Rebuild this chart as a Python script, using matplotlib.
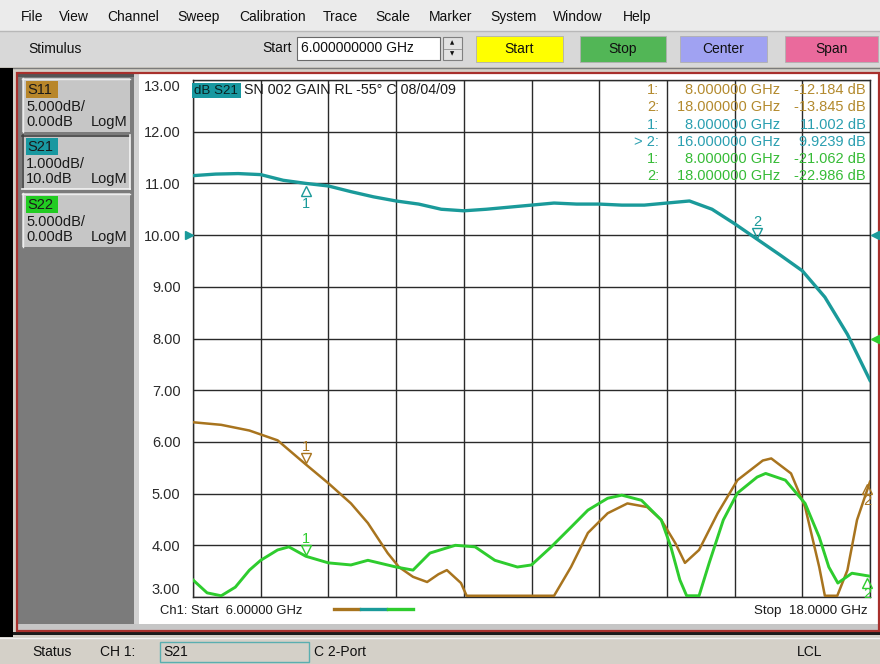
import matplotlib
matplotlib.use('Agg')
import matplotlib.pyplot as plt
from matplotlib.patches import Rectangle
from matplotlib.lines import Line2D
from matplotlib.transforms import offset_copy
import numpy as np

plt.rcParams['font.family'] = ['Liberation Sans', 'DejaVu Sans']

# ---------------- data ----------------
s21_f = [6.0, 6.4, 6.8, 7.2, 7.6, 8.0, 8.4, 8.8, 9.2, 9.6, 10.0, 10.4, 10.8, 11.2, 11.6,
         12.0, 12.4, 12.8, 13.2, 13.6, 14.0, 14.4, 14.8, 15.2, 15.6, 16.0, 16.4, 16.8,
         17.2, 17.6, 18.0]
s21_db = [11.15, 11.18, 11.19, 11.17, 11.06, 11.00, 10.95, 10.84, 10.74, 10.66, 10.60,
          10.50, 10.47, 10.50, 10.54, 10.58, 10.62, 10.60, 10.60, 10.58, 10.58, 10.62,
          10.66, 10.50, 10.22, 9.92, 9.62, 9.31, 8.80, 8.08, 7.19]

s11_f = [6.0, 6.5, 7.0, 7.5, 8.0, 8.4, 8.8, 9.1, 9.45, 9.65, 9.9, 10.15, 10.35, 10.5,
         10.75, 10.85, 11.5, 12.3, 12.4, 12.7, 13.0, 13.35, 13.7, 14.05, 14.3, 14.55,
         14.72, 14.97, 15.3, 15.65, 16.1, 16.25, 16.6, 16.85, 17.1, 17.2, 17.42, 17.6,
         17.77, 18.0]
s11_db = [-8.1, -8.35, -8.9, -9.85, -12.18, -14.0, -15.95, -17.85, -20.75, -22.1, -23.05,
          -23.55, -22.8, -22.4, -23.65, -27.0, -30.0, -27.0, -25.2, -22.1, -18.8, -16.9,
          -15.95, -16.3, -17.55, -19.8, -21.7, -20.45, -16.9, -13.7, -11.8, -11.6, -13.05,
          -16.3, -22.1, -28.0, -28.0, -22.4, -17.55, -13.85]

s22_f = [6.0, 6.25, 6.5, 6.75, 7.0, 7.2, 7.5, 7.7, 8.0, 8.4, 8.8, 9.1, 9.6, 9.9, 10.2,
         10.65, 11.0, 11.35, 11.75, 12.0, 12.35, 12.7, 13.0, 13.35, 13.6, 13.95, 14.3,
         14.47, 14.63, 14.75, 14.97, 15.15, 15.4, 15.65, 16.0, 16.15, 16.5, 16.85, 17.1,
         17.27, 17.43, 17.68, 18.0]
s22_db = [-23.35, -24.6, -25.5, -24.05, -22.4, -21.45, -20.45, -20.15, -21.06, -21.7,
          -21.9, -21.45, -22.1, -22.4, -20.75, -20.0, -20.15, -21.45, -22.1, -21.9, -20.15,
          -18.25, -16.6, -15.45, -15.15, -15.65, -17.55, -20.15, -23.35, -27.0, -27.0,
          -21.7, -17.55, -14.95, -13.4, -13.05, -13.7, -15.95, -19.2, -22.1, -23.65,
          -22.7, -22.99]

s11_mk_f = [8.0, 18.0]
s11_mk_v = [-12.184, -13.845]
s21_mk_f = [8.0, 16.0]
s21_mk_v = [11.002, 9.9239]
s22_mk_f = [8.0, 18.0]
s22_mk_v = [-21.062, -22.986]

f_start, f_stop = 6.0, 18.0
s21_scale, s21_ref = 1.0, 10.0
s11_scale, s11_ref = 5.0, 0.0

menu_items = ["File", "View", "Channel", "Sweep", "Calibration", "Trace", "Scale",
              "Marker", "System", "Window", "Help"]
menu_x = [21, 59, 107, 177, 239, 323, 375, 429, 490, 553, 623]

C11 = '#a8741e'
C21 = '#1a9a9a'
C22 = '#2ecc2e'
T11 = '#b38a2e'
T21 = '#2a9fb0'
T22 = '#36bb36'

W, H = 880, 664
fig = plt.figure(figsize=(8.8, 6.64), dpi=100)
fig.patch.set_facecolor('#d4d0c8')


def R(x0, y0, x1, y1, fc, ec='none', lw=0.0, z=-5):
    fig.add_artist(Rectangle((x0 / W, 1 - y1 / H), (x1 - x0) / W, (y1 - y0) / H,
                             transform=fig.transFigure, facecolor=fc, edgecolor=ec,
                             linewidth=lw, zorder=z))


def T(x, y, s, **kw):
    kw.setdefault('va', 'center')
    kw.setdefault('fontsize', 10)
    kw.setdefault('color', '#101010')
    return fig.text(x / W, 1 - y / H, s, **kw)


def L(x0, y0, x1, y1, color, lw=1.0, z=-4):
    fig.add_artist(Line2D([x0 / W, x1 / W], [1 - y0 / H, 1 - y1 / H],
                          transform=fig.transFigure, color=color, linewidth=lw, zorder=z))


# ---------------- window chrome ----------------
R(0, 0, 880, 31, '#ebebeb')
L(0, 31, 880, 31, '#b8b8b8')
for name, x in zip(menu_items, menu_x):
    T(x, 17, name, fontsize=10)

R(0, 32, 880, 67, '#d8d8d8')
T(28, 49, "Stimulus", fontsize=10)
T(292, 48, "Start", fontsize=10, ha='right')
R(297, 37, 440, 60, 'white', ec='#6a6a6a', lw=0.8, z=-3)
T(301, 48, "6.000000000 GHz", fontsize=10)
R(443, 37, 462, 60, '#e2e2e2', ec='#808080', lw=0.8, z=-3)
L(444, 48.5, 461, 48.5, '#909090', 0.6, z=-2)
T(452.5, 43, "▲", fontsize=4, ha='center', family='DejaVu Sans')
T(452.5, 54, "▼", fontsize=4, ha='center', family='DejaVu Sans')
buttons = [("Start", 476, 563, '#ffff00'), ("Stop", 580, 666, '#52b656'),
           ("Center", 680, 767, '#a0a2f2'), ("Span", 785, 878, '#ea6a9c')]
for name, x0, x1, col in buttons:
    R(x0, 36, x1, 62, col, ec='#b0b0b0', lw=0.6, z=-3)
    T((x0 + x1) / 2, 49, name, fontsize=10, ha='center')

L(0, 67.5, 880, 67.5, '#7a7a7a', 1.0)
R(0, 68, 880, 637, '#d4d0c8')
R(0, 68, 13, 637, '#000000', z=-4)

# red framed channel window
R(18, 74, 134, 624, '#7b7b7b', z=-4)
R(18, 74, 134, 77, '#555555', z=-3)
R(134, 74, 139, 624, '#d2d2d2', z=-4)
R(139, 74, 879, 624, 'white', z=-4)
R(18, 624, 879, 630, '#c6c6c6', z=-4)
R(17, 72.5, 879, 631, 'none', ec='#a8302c', lw=1.6, z=-2)
R(13, 632, 880, 635, '#1a1a1a', z=-3)

# trace info boxes
boxes = [("S11", "5.000dB/", "0.00dB", 78, '#b8862a', False),
         ("S21", "1.000dB/", "10.0dB", 135, '#1898a0', True),
         ("S22", "5.000dB/", "0.00dB", 193, '#22cc22', False)]
for name, l1, l2, y0, col, sel in boxes:
    R(22, y0, 130, y0 + 54, '#c6c6c6', z=-3)
    if sel:
        L(22, y0 + 0.5, 130, y0 + 0.5, '#404040', 1.2, z=-2)
        L(22.5, y0, 22.5, y0 + 54, '#404040', 1.2, z=-2)
        L(22, y0 + 53.5, 130, y0 + 53.5, '#f4f4f4', 1.2, z=-2)
        L(129.5, y0, 129.5, y0 + 54, '#f4f4f4', 1.2, z=-2)
    else:
        L(22, y0 + 0.5, 130, y0 + 0.5, '#ececec', 1.0, z=-2)
        L(22.5, y0, 22.5, y0 + 54, '#ececec', 1.0, z=-2)
    R(26, y0 + 3, 58, y0 + 20, col, z=-2)
    T(27, y0 + 12, name, fontsize=10.5, color='#1a1a1a')
    T(26, y0 + 29, l1, fontsize=10.5, color='#1a1a1a')
    T(26, y0 + 44, l2, fontsize=10.5, color='#1a1a1a')
    T(127, y0 + 44, "LogM", fontsize=10.5, color='#1a1a1a', ha='right')

# status bar
R(0, 637, 880, 664, '#d4d0c8', z=-3)
L(0, 637.5, 880, 637.5, '#f2f2f2', 1.0, z=-2)
T(32, 652, "Status", fontsize=10)
T(100, 652, "CH 1:", fontsize=10)
R(160, 642, 309, 662, '#d4d0c8', ec='#5aaeb0', lw=1.0, z=-2)
T(163, 652, "S21", fontsize=10)
T(314, 652, "C 2-Port", fontsize=10)
T(797, 652, "LCL", fontsize=10)

# ---------------- plot ----------------
ax = fig.add_axes([193 / W, 1 - 597 / H, 677 / W, 517 / H])
ax.set_facecolor('none')
ax.set_xlim(f_start, f_stop)
bottom = s21_ref - 7 * s21_scale
ax.set_ylim(bottom, bottom + 10 * s21_scale)
ax.set_xticks(f_start + (f_stop - f_start) / 10 * np.arange(11))
ax.set_xticklabels([])
ax.set_yticks(bottom + s21_scale * np.arange(11))
ax.yaxis.set_major_formatter('{x:.2f}')
ax.tick_params(axis='both', length=0)
ax.tick_params(axis='y', pad=9, labelsize=10.5, labelcolor='#2a2a2a')
ax.grid(True, color='#2a2a2a', linewidth=1.0)
ax.set_axisbelow(True)
for s in ax.spines.values():
    s.set_color('#2a2a2a')
    s.set_linewidth(1.0)
ticks = ax.yaxis.get_major_ticks()
ticks[-1].label1.set_verticalalignment('top')
ticks[0].label1.set_verticalalignment('bottom')

ax2 = ax.twinx()
b2 = s11_ref - 5 * s11_scale
ax2.set_ylim(b2, b2 + 10 * s11_scale)
ax2.set_yticks([])
for s in ax2.spines.values():
    s.set_visible(False)

floor = b2 + 0.12
ax.plot(s21_f, s21_db, color=C21, lw=2.4, solid_joinstyle='round', zorder=3)
ax2.plot(s11_f, np.maximum(np.array(s11_db), floor), color=C11, lw=1.8,
         solid_joinstyle='round', zorder=3)
ax2.plot(s22_f, np.maximum(np.array(s22_db), floor), color=C22, lw=2.1,
         solid_joinstyle='round', zorder=4)


def mk(axis, f, v, sym, dsym, lab, dlab, color, dx=0):
    tr = offset_copy(axis.transData, fig=fig, x=dx, y=dsym, units='dots')
    axis.plot([f], [v], marker=sym, ms=6.5, mfc='none', mec=color, mew=1.0,
              linestyle='none', transform=tr, clip_on=False, zorder=6)
    tr2 = offset_copy(axis.transData, fig=fig, x=dx, y=dlab, units='dots')
    axis.text(f, v, lab, transform=tr2, ha='center', va='center', color=color,
              fontsize=10.5, clip_on=False, zorder=6)


mk(ax, s21_mk_f[0], s21_mk_v[0], '^', -8, '1', -21, C21)
mk(ax, s21_mk_f[1], s21_mk_v[1], 'v', 6, '2', 17, C21)
mk(ax2, s11_mk_f[0], s11_mk_v[0], 'v', 6, '1', 17, C11)
mk(ax2, s22_mk_f[0], s22_mk_v[0], 'v', 6, '1', 17, C22)
mk(ax2, s11_mk_f[1], s11_mk_v[1], '^', -7, '2', -19, C11, dx=-3)
mk(ax2, s22_mk_f[1], s22_mk_v[1], '^', -7, '2', -18, C22, dx=-3)

# reference position arrows
ax.plot([f_start], [s21_ref], marker='>', ms=6, color=C21, linestyle='none', clip_on=False,
        transform=offset_copy(ax.transData, fig=fig, x=-4, y=0, units='dots'), zorder=6)
ax.plot([f_stop], [s21_ref], marker='<', ms=6, color=C21, linestyle='none', clip_on=False,
        transform=offset_copy(ax.transData, fig=fig, x=5, y=0, units='dots'), zorder=6)
ax2.plot([f_stop], [s11_ref], marker='<', ms=6, color=C22, linestyle='none', clip_on=False,
         transform=offset_copy(ax2.transData, fig=fig, x=5, y=0, units='dots'), zorder=6)

# title
R(192, 83, 241, 98, '#1898a0', z=2)
T(194.5, 90.5, "dB S21", fontsize=9.6, color='#0a2222', zorder=4)
T(244, 90.5, "SN 002 GAIN RL -55° C 08/04/09", fontsize=10.3, color='#1a1a1a', zorder=4)

# marker table
rows = []
for i, (f, v) in enumerate(zip(s11_mk_f, s11_mk_v)):
    rows.append((f"{i+1}:", f, v, T11))
for i, (f, v) in enumerate(zip(s21_mk_f, s21_mk_v)):
    rows.append(((">" + " " if i == 1 else "") + f"{i+1}:", f, v, T21))
for i, (f, v) in enumerate(zip(s22_mk_f, s22_mk_v)):
    rows.append((f"{i+1}:", f, v, T22))
for k, (lab, f, v, col) in enumerate(rows):
    y = 90 + k * 17.3
    T(659, y, lab, fontsize=10.5, color=col, ha='right', zorder=4)
    T(780, y, f"{f:.6f} GHz", fontsize=10.5, color=col, ha='right', zorder=4)
    T(866, y, f"{v:.5g} dB", fontsize=10.5, color=col, ha='right', zorder=4)

# bottom annotations
T(160, 611, f"Ch1: Start  {f_start:.5f} GHz", fontsize=9.4, color='#1a1a1a')
T(868, 611, f"Stop  {f_stop:.4f} GHz", fontsize=9.6, color='#1a1a1a', ha='right')
for (x0, x1), col in zip([(334, 359), (361, 386), (388, 413)], [C11, C21, C22]):
    L(x0, 609, x1, 609, col, 2.4, z=4)

fig.savefig('out.png', dpi=100, facecolor=fig.get_facecolor())
